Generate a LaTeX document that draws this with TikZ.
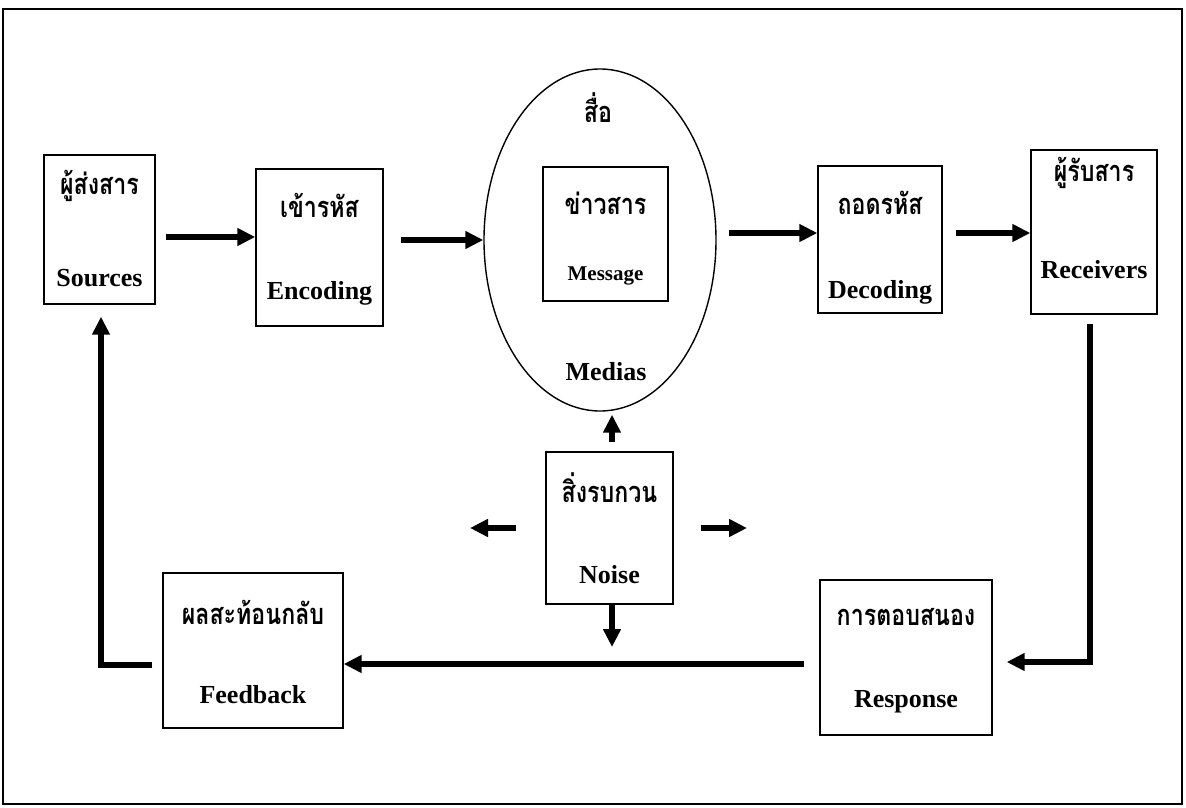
\documentclass[tikz,border=0pt]{standalone}
\usepackage{fontspec}
\setmainfont{Liberation Serif}
\newfontfamily\thai[Script=Thai,FakeStretch=0.8]{Loma}
\usetikzlibrary{arrows.meta,calc,shapes.geometric}
\begin{document}
\begin{tikzpicture}[x=1pt,y=-1pt,
  box/.style={draw,line width=1.4pt,rectangle,inner sep=0pt},
  th/.style={font=\thai\bfseries\fontsize{29}{32}\selectfont,inner sep=0pt},
  en/.style={font=\bfseries\fontsize{26}{30}\selectfont,inner sep=0pt},
  ensm/.style={font=\bfseries\fontsize{21}{24}\selectfont,inner sep=0pt},
  arr/.style={line width=5.5pt,-{Triangle[length=18pt,width=17pt]}}]
\useasboundingbox (0,0) rectangle (1186,808);
\draw[line width=2pt] (3,9) rectangle (1182,804);

% boxes
\node[box,minimum width=111pt,minimum height=149pt] (src) at (99.5,229.5) {};
\node[box,minimum width=127pt,minimum height=157pt] (enc) at (319.5,247.5) {};
\node[draw,ellipse,line width=1.4pt,inner sep=0pt,minimum width=232pt,minimum height=342pt] (med) at (600,240) {};
\node[box,minimum width=125pt,minimum height=134pt] (msg) at (605.5,234) {};
\node[box,minimum width=124pt,minimum height=147pt] (dec) at (880,239.5) {};
\node[box,minimum width=126pt,minimum height=164pt] (rec) at (1094,232) {};
\node[box,minimum width=127pt,minimum height=152pt] (noise) at (609.5,528) {};
\node[box,minimum width=180pt,minimum height=155pt] (fb) at (253,650.5) {};
\node[box,minimum width=172pt,minimum height=155pt] (resp) at (906,657.5) {};

% texts
\node[th] (srcT) at (99.5,186) {ผู้ส่งสาร};
\node[en] (srcE) at (99.5,278) {Sources};
\node[th] (encT) at (319.5,205) {เข้ารหัส};
\node[en] (encE) at (319.5,293) {Encoding};
\node[th] (medT) at (598,108) {สื่อ};
\node[th] (msgT) at (605.5,203) {ข่าวสาร};
\node[ensm] (msgE) at (605.5,276) {Message};
\node[en] (medE) at (606,372) {Medias};
\node[th] (decT) at (880,203) {ถอดรหัส};
\node[en] (decE) at (880,292) {Decoding};
\node[th] (recT) at (1094,173) {ผู้รับสาร};
\node[en] (recE) at (1094,270) {Receivers};
\node[th] (noiseT) at (609.5,488) {สิ่งรบกวน};
\node[en] (noiseE) at (609.5,575) {Noise};
\node[th] (fbT) at (253,612) {ผลสะท้อนกลับ};
\node[en] (fbE) at (253,695) {Feedback};
\node[th] (respT) at (906,617) {การตอบสนอง};
\node[en] (respE) at (906,702) {Response};

% free ends of the noise arrows
\coordinate (nl) at (470,528);
\coordinate (nr) at (747,528);
\coordinate (nd) at (612,647);

% connectors
\draw[arr,shorten <=10pt] (src.east |- 0,237) -- (enc.west |- 0,237);
\draw[arr,shorten <=17pt] (enc.east |- med.west) -- (med.west);
\draw[arr,shorten <=12pt] (med.east |- 0,233) -- (dec.west |- 0,233);
\draw[arr,shorten <=13pt] (dec.east |- 0,233) -- (rec.west |- 0,233);
\draw[arr,shorten <=9pt,shorten >=14pt] ([xshift=-4pt]rec.south) |- (resp.east |- 0,662);
\draw[arr,shorten <=15pt] (resp.west |- 0,664) -- (fb.east |- 0,664);
\draw[arr,shorten <=10pt,shorten >=12pt] (fb.west |- 0,665) -| ([xshift=1.5pt]src.south);
\draw[arr,shorten <=9pt,shorten >=3pt] ([xshift=2.5pt]noise.north) -- ([xshift=2.5pt]noise.north |- med.south);
\draw[arr,shorten <=29pt] (noise.west) -- (nl);
\draw[arr,shorten <=27pt] (noise.east) -- (nr);
\draw[arr] ([xshift=2.5pt]noise.south) -- (nd);
\end{tikzpicture}
\end{document}
